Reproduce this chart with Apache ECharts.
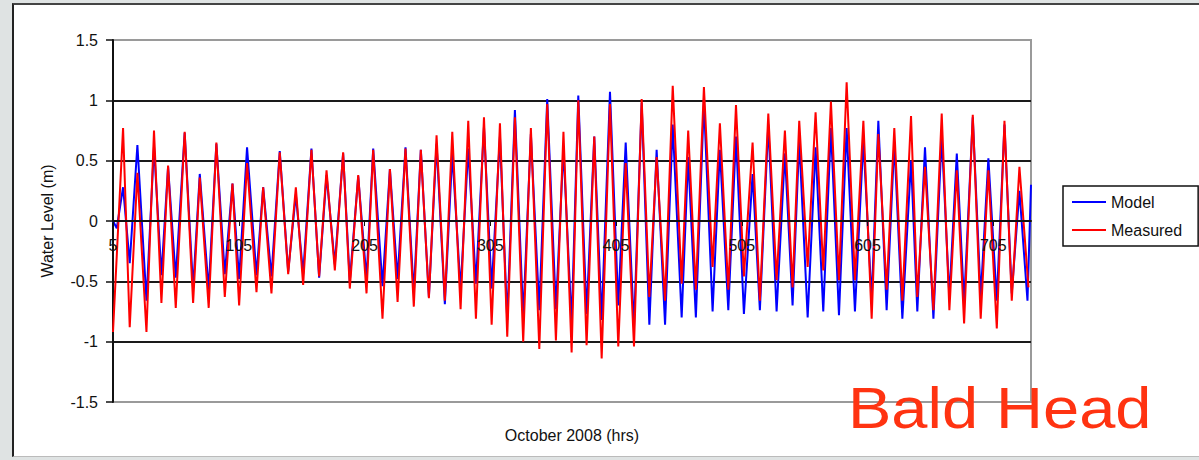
<!DOCTYPE html>
<html>
<head>
<meta charset="utf-8">
<script src="https://cdn.jsdelivr.net/npm/echarts@6/dist/echarts.min.js"></script>
<style>
html,body{margin:0;padding:0;width:1199px;height:460px;overflow:hidden;background:#dfe3e3;}
#frame{position:absolute;left:12px;top:3px;width:1187px;height:454px;background:#fff;border-left:2px solid #222;border-top:2px solid #444;border-bottom:1px solid #bbb;box-sizing:border-box;}
#chart{position:absolute;left:0;top:0;width:1199px;height:460px;}
</style>
</head>
<body>
<div id="frame"></div>
<div id="chart"></div>
<script>
// Hours (October 2008) at which the tidal highs / lows occur
const hours = [
  5, 13, 18.3, 24.4, 31.6, 37.6, 43.5, 48.8, 54.9, 62,
  68.7, 74, 81.1, 87.2, 93.9, 100, 105.3, 111.6, 119.1, 124.4,
  131, 137.6, 144.3, 150.4, 156.2, 162.8, 168.9, 174.8, 181.4, 188,
  193.3, 200, 206.6, 211.9, 219.3, 225.2, 231.3, 237.6, 244.2, 249.8,
  256.2, 262.3, 268.9, 274.8, 281.4, 287.5, 293.6, 300, 306.1, 312.7,
  318.5, 324.6, 331.2, 337.3, 344, 350.3, 357.2, 363.2, 369.7, 375,
  381.6, 387.7, 393.6, 400.2, 406.8, 412.7, 419.3, 425.4, 431.5, 437.3,
  444, 450.1, 457.2, 462.4, 468.5, 474.9, 481.8, 487.6, 494.3, 500.4,
  506.7, 513.6, 519.4, 526.1, 532.7, 539.3, 545.4, 550.7, 557.4, 563.7,
  569.8, 575.9, 582.3, 588.4, 595, 601.7, 608.3, 613.6, 620.2, 626.3,
  632.7, 639.6, 644.6, 650.7, 657.4, 664, 670.1, 676, 681.8, 688.7,
  695, 701.1, 707.8, 713.9, 719.7, 725.8, 733
];
// Measured water level (m)
const measured = [
  -0.92, 0.77, -0.88, 0.40, -0.92, 0.75, -0.68, 0.46, -0.72, 0.74,
  -0.68, 0.36, -0.72, 0.65, -0.63, 0.31, -0.70, 0.48, -0.59, 0.28,
  -0.60, 0.57, -0.44, 0.28, -0.53, 0.59, -0.46, 0.42, -0.41, 0.57,
  -0.56, 0.38, -0.60, 0.59, -0.81, 0.43, -0.67, 0.60, -0.71, 0.59,
  -0.64, 0.71, -0.66, 0.74, -0.73, 0.83, -0.81, 0.86, -0.86, 0.81,
  -0.96, 0.86, -1.00, 0.77, -1.06, 0.97, -0.99, 0.74, -1.09, 1.00,
  -1.03, 0.70, -1.14, 0.97, -1.04, 0.48, -1.04, 1.01, -0.63, 0.53,
  -0.66, 1.12, -0.52, 0.75, -0.57, 1.11, -0.38, 0.81, -0.57, 0.96,
  -0.46, 0.65, -0.66, 0.89, -0.49, 0.75, -0.55, 0.83, -0.38, 0.90,
  -0.41, 0.99, -0.49, 1.15, -0.49, 0.83, -0.81, 0.72, -0.57, 0.77,
  -0.66, 0.87, -0.63, 0.45, -0.74, 0.89, -0.74, 0.42, -0.85, 0.88,
  -0.81, 0.42, -0.89, 0.83, -0.66, 0.45, -0.55
];
// Model hours and water level (m)
const modelHours = [
  5, 8, 13, 18.3, 24.4, 31.6, 37.6, 43.5, 48.8, 54.9, 62,
  68.7, 74, 81.1, 87.2, 93.9, 100, 105.3, 111.6, 119.1, 124.4,
  131, 137.6, 144.3, 150.4, 156.2, 162.8, 168.9, 174.8, 181.4, 188,
  193.3, 200, 206.6, 211.9, 219.3, 225.2, 231.3, 237.6, 244.2, 249.8,
  256.2, 262.3, 268.9, 274.8, 281.4, 287.5, 293.6, 300, 306.1, 312.7,
  318.5, 324.6, 331.2, 337.3, 344, 350.3, 357.2, 363.2, 369.7, 375,
  381.6, 387.7, 393.6, 400.2, 406.8, 412.7, 419.3, 425.4, 431.5, 437.3,
  444, 450.1, 457.2, 462.4, 468.5, 474.9, 481.8, 487.6, 494.3, 500.4,
  506.7, 513.6, 519.4, 526.1, 532.7, 539.3, 545.4, 550.7, 557.4, 563.7,
  569.8, 575.9, 582.3, 588.4, 595, 601.7, 608.3, 613.6, 620.2, 626.3,
  632.7, 639.6, 644.6, 650.7, 657.4, 664, 670.1, 676, 681.8, 688.7,
  695, 701.1, 707.8, 713.9, 719.7, 725.8, 732.2, 735
];
const model = [
  0.00, -0.06, 0.28, -0.35, 0.63, -0.66, 0.62, -0.45, 0.45, -0.47, 0.73,
  -0.56, 0.39, -0.57, 0.64, -0.44, 0.31, -0.48, 0.61, -0.45, 0.28,
  -0.46, 0.58, -0.42, 0.22, -0.44, 0.60, -0.47, 0.38, -0.36, 0.56,
  -0.50, 0.37, -0.48, 0.60, -0.54, 0.43, -0.48, 0.61, -0.60, 0.59,
  -0.63, 0.64, -0.69, 0.56, -0.57, 0.60, -0.52, 0.78, -0.56, 0.70,
  -0.82, 0.92, -0.80, 0.72, -0.74, 1.01, -0.73, 0.60, -0.85, 1.04,
  -0.77, 0.70, -0.82, 1.07, -0.70, 0.65, -0.88, 0.98, -0.86, 0.59,
  -0.86, 0.80, -0.80, 0.53, -0.80, 0.99, -0.75, 0.59, -0.74, 0.70,
  -0.77, 0.39, -0.74, 0.80, -0.75, 0.56, -0.70, 0.67, -0.80, 0.61,
  -0.75, 0.77, -0.78, 0.77, -0.75, 0.67, -0.66, 0.83, -0.74, 0.65,
  -0.81, 0.50, -0.75, 0.61, -0.81, 0.70, -0.63, 0.56, -0.68, 0.86,
  -0.63, 0.52, -0.66, 0.80, -0.60, 0.25, -0.66, 0.30
];
const xTicks = [5, 105, 205, 305, 405, 505, 605, 705];
const seriesNames = ['Model', 'Measured'];
const xTitle = 'October 2008 (hrs)';
const yTitle = 'Water Level (m)';
const stationName = 'Bald Head';

const FONT = 'Arial, "Liberation Sans", sans-serif';
const chart = echarts.init(document.getElementById('chart'), null, {renderer: 'svg'});
const option = {
  backgroundColor: 'transparent',
  animation: false,
  textStyle: {fontFamily: FONT},
  grid: {left: 113, top: 40, width: 918, height: 362, show: true,
         borderColor: '#9a9a9a', borderWidth: 2, backgroundColor: 'transparent'},
  legend: {
    orient: 'vertical', left: 1063, top: 186,
    padding: [8, 16, 8, 9], itemGap: 12, itemWidth: 34, itemHeight: 2,
    icon: 'rect', borderColor: '#111', borderWidth: 1.5,
    textStyle: {fontSize: 16, color: '#111', fontFamily: FONT},
    data: seriesNames
  },
  xAxis: {
    type: 'value', min: 5, max: 735, interval: 100, z: 5,
    position: 'bottom', offset: -181,
    axisLine: {onZero: false, lineStyle: {color: '#111', width: 2}},
    axisTick: {show: true, customValues: xTicks, length: 5, lineStyle: {color: '#111', width: 1}},
    axisLabel: {customValues: xTicks, margin: 16, fontSize: 16, color: '#111', fontFamily: FONT},
    splitLine: {show: false}
  },
  yAxis: {
    type: 'value', min: -1.5, max: 1.5, interval: 0.5,
    axisLine: {show: true, onZero: false, lineStyle: {color: '#111', width: 2}},
    axisTick: {show: true, length: 7, lineStyle: {color: '#111', width: 1.5}},
    axisLabel: {margin: 15, fontSize: 16, color: '#111', fontFamily: FONT},
    splitLine: {show: true, lineStyle: {width: 2,
      color: ['#9a9a9a', '#1a1a1a', '#1a1a1a', '#1a1a1a', '#1a1a1a', '#1a1a1a', '#9a9a9a']}},
    name: yTitle, nameLocation: 'middle', nameGap: 58,
    nameTextStyle: {fontSize: 16, color: '#111', fontFamily: FONT}
  },
  series: [
    {name: seriesNames[0], type: 'line', showSymbol: false, symbol: 'none',
     color: '#0000ff', lineStyle: {color: '#0000ff', width: 2},
     data: modelHours.map((h, i) => [h, model[i]])},
    {name: seriesNames[1], type: 'line', showSymbol: false, symbol: 'none',
     color: '#ff0000', lineStyle: {color: '#ff0000', width: 2},
     data: hours.map((h, i) => [h, measured[i]])}
  ],
  graphic: [
    {type: 'text', x: 572, y: 435, z: 10,
     style: {text: xTitle, font: '16px ' + FONT, fill: '#111', textAlign: 'center', textVerticalAlign: 'middle'}},
    {type: 'text', x: 848, y: 408, scaleX: 1.14, z: 10,
     style: {text: stationName, font: '57px ' + FONT, fill: '#ff3311', textAlign: 'left', textVerticalAlign: 'middle'}}
  ]
};
chart.setOption(option);
</script>
</body>
</html>
